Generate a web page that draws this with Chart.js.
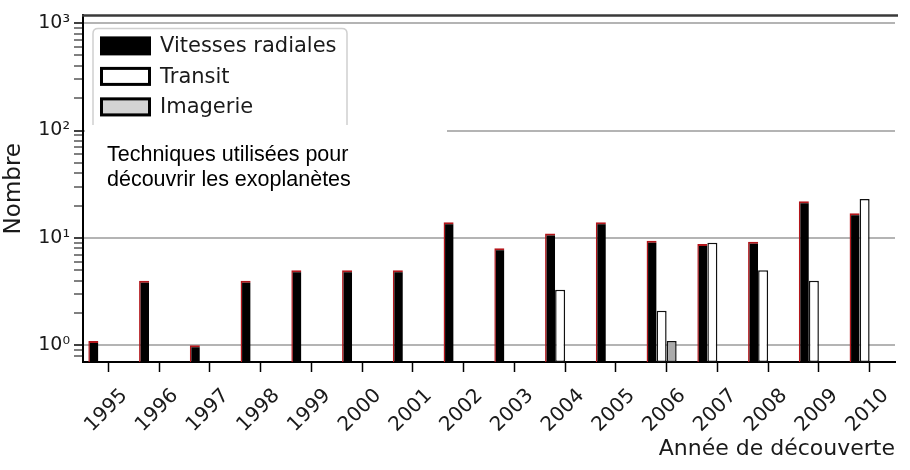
<!DOCTYPE html>
<html><head><meta charset="utf-8">
<script src="https://cdn.jsdelivr.net/npm/chart.js@4.4.1/dist/chart.umd.min.js"></script>
<style>html,body{margin:0;padding:0;background:#fff}#wrap{width:910px;height:470px;position:relative}</style>
</head><body><div id="wrap"><canvas id="c" width="910" height="470"></canvas></div>
<script>
const years = ['1995','1996','1997','1998','1999','2000','2001','2002','2003','2004','2005','2006','2007','2008','2009','2010'];
const radialVelocity = [1.1, 4, 1, 4, 5, 5, 5, 14, 8, 11, 14, 9.4, 8.8, 9.2, 22, 17];
const transit = [null, null, null, null, null, null, null, null, null, 3.3, null, 2.1, 9, 5, 4, 23];
const imaging = [null, null, null, null, null, null, null, null, null, null, null, 1.1, null, null, null, null];
const seriesNames = ['Vitesses radiales', 'Transit', 'Imagerie'];
const yTickValues = [0.8, 0.9, 1, 2, 3, 4, 5, 6, 7, 8, 9, 10, 20, 30, 40, 50, 60, 70, 80, 90, 100, 200, 300, 400, 500, 600, 700, 800, 900, 1000];
const yMajorLabels = {1: '10⁰', 10: '10¹', 100: '10²', 1000: '10³'};
const noteLines = ['Techniques utilisées pour', 'découvrir les exoplanètes'];
const xTitle = 'Année de découverte';
const yTitle = 'Nombre';

Chart.defaults.font.family = "'DejaVu Sans', sans-serif";
Chart.defaults.color = '#1a1a1a';

const isMajor = v => Object.prototype.hasOwnProperty.call(yMajorLabels, v);

const overlay = {
  id: 'overlay',
  afterDraw(chart) {
    const {ctx, chartArea: a} = chart;
    ctx.save();
    // top spine
    ctx.strokeStyle = '#3a3a3a'; ctx.lineWidth = 2.5;
    ctx.beginPath(); ctx.moveTo(a.left - 1, a.top); ctx.lineTo(a.right + 3, a.top); ctx.stroke();
    // legend frame
    const lx = a.left + 10, ly = a.top + 13, lw = 254, lh = 130, r = 5;
    ctx.beginPath();
    ctx.moveTo(lx + r, ly); ctx.lineTo(lx + lw - r, ly); ctx.quadraticCurveTo(lx + lw, ly, lx + lw, ly + r);
    ctx.lineTo(lx + lw, ly + lh); ctx.lineTo(lx, ly + lh); ctx.lineTo(lx, ly + r); ctx.quadraticCurveTo(lx, ly, lx + r, ly);
    ctx.closePath();
    ctx.fillStyle = 'rgba(255,255,255,0.9)'; ctx.fill();
    ctx.strokeStyle = '#d0d0d0'; ctx.lineWidth = 1.5; ctx.stroke();
    const legendFills = ['#000000', '#ffffff', '#d3d3d3'];
    chart.data.datasets.slice(0, 3).forEach((ds, i) => {
      const px = lx + 7, py = ly + 8 + i * 30.5, pw = 51, ph = 19;
      ctx.fillStyle = legendFills[i];
      ctx.fillRect(px, py, pw, ph);
      if (i > 0) { ctx.strokeStyle = '#000'; ctx.lineWidth = 3; ctx.strokeRect(px + 1.5, py + 1.5, pw - 3, ph - 3); }
      ctx.fillStyle = '#1a1a1a'; ctx.font = "21px 'DejaVu Sans', sans-serif";
      ctx.textBaseline = 'middle'; ctx.textAlign = 'left';
      ctx.fillText(ds.label, px + 60, py + ph / 2 + 1);
    });
    // white note box
    ctx.fillStyle = '#ffffff';
    ctx.fillRect(a.left + 2, 125, 447 - a.left - 2, 80);
    ctx.fillStyle = '#000'; ctx.font = "21.5px 'Liberation Sans', Arial, sans-serif";
    ctx.textBaseline = 'alphabetic';
    ctx.fillText(noteLines[0], 107, 161);
    ctx.fillText(noteLines[1], 107, 186);
    ctx.restore();
  }
};

new Chart(document.getElementById('c'), {
  type: 'bar',
  data: {
    labels: years,
    datasets: [
      {label: seriesNames[0], data: radialVelocity, backgroundColor: '#000000', borderColor: '#b3161b', borderWidth: {left: 1.5, top: 2, right: 0, bottom: 0}, borderSkipped: false},
      {label: seriesNames[1], data: transit, backgroundColor: '#ffffff', borderColor: '#111111', borderWidth: 1.5, borderSkipped: false},
      {label: seriesNames[2], data: imaging, backgroundColor: '#aaaaaa', borderColor: '#111111', borderWidth: 1.5, borderSkipped: false},
      {label: '', data: years.map(() => null)}
    ]
  },
  options: {
    responsive: false,
    animation: false,
    devicePixelRatio: 1,
    layout: {padding: {top: 15, right: 15, left: 0, bottom: 0}},
    datasets: {bar: {barPercentage: 1, categoryPercentage: 0.79}},
    plugins: {legend: {display: false}, tooltip: {enabled: false}},
    scales: {
      x: {
        grid: {drawOnChartArea: false, offset: false, tickLength: 10, tickColor: '#000', tickWidth: 1.5},
        border: {color: '#000', width: 2},
        ticks: {maxRotation: 45, minRotation: 45, labelOffset: 16, padding: 12, font: {size: 20}, color: '#1a1a1a', autoSkip: false},
        title: {display: true, text: xTitle, align: 'end', font: {size: 22}, color: '#1a1a1a', padding: {top: 0, bottom: 8}},
        afterFit: s => { s.height = 108; }
      },
      y: {
        type: 'logarithmic',
        min: 0.7, max: 1180,
        afterBuildTicks: s => { s.ticks = yTickValues.map(v => ({value: v, major: isMajor(v)})); },
        ticks: {autoSkip: false, padding: 4, font: {size: 19}, color: '#1a1a1a', callback: v => yMajorLabels[v] || ''},
        grid: {
          color: c => (c.tick && isMajor(c.tick.value)) ? '#b4b4b4' : 'rgba(0,0,0,0)',
          lineWidth: 2,
          tickColor: '#000',
          tickWidth: c => (c.tick && isMajor(c.tick.value)) ? 1.5 : 1,
          tickLength: 9
        },
        border: {color: '#000', width: 2},
        title: {display: true, text: yTitle, font: {size: 23}, color: '#1a1a1a', padding: {top: 0, bottom: 0}},
        afterFit: s => { s.width = 83; }
      }
    }
  },
  plugins: [overlay]
});
</script>
</body></html>
